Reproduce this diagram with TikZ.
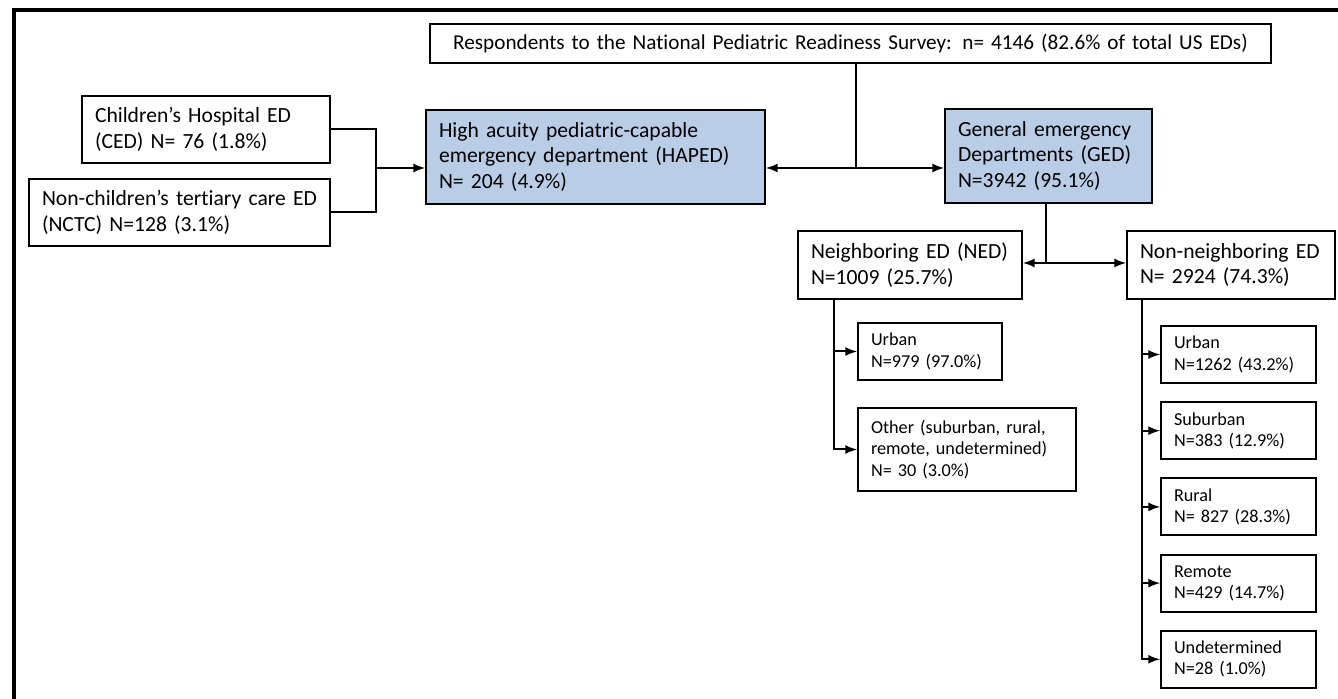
\documentclass[tikz,border=0pt]{standalone}
\usepackage{fontspec}
\setmainfont{Carlito}[Ligatures=NoCommon]
\usepackage{xcolor}
\usetikzlibrary{arrows, positioning}

\definecolor{boxblue}{RGB}{185,205,230}

\begin{document}
\begin{tikzpicture}[x=0.5pt,y=-0.5pt,node distance=38.1pt,line width=1pt,>=latex]
  \tikzstyle{every node}=[font=\fontsize{10.8}{12.75}\selectfont]
  \tikzstyle{box}=[draw,rectangle,anchor=north west,align=left,inner xsep=6.5pt,inner ysep=1pt]
  \tikzstyle{bluebox}=[box,fill=boxblue]
  \tikzstyle{small}=[box,font=\fontsize{9.1}{10.6}\selectfont,text width=64.5pt,minimum height=28.5pt]

  \useasboundingbox (0,0) rectangle (1338,699);
  \draw[line width=2.2pt] (14,699) -- (14,10) -- (1338,10);

  \node[box,align=center,text width=407.5pt,minimum height=19.5pt,font=\fontsize{10.6}{12.75}\selectfont] (resp) at (429,23)
    {Respondents to the National Pediatric Readiness Survey: n= 4146 (82.6\% of total US EDs)};
  \node[box,text width=111pt,minimum height=33.5pt]      (ced)   at (81,95)    {Children's Hospital ED\\(CED) N= 76 (1.8\%)};
  \node[box,text width=137.5pt,minimum height=33.5pt]    (nctc)  at (28,178)   {Non-children's tertiary care ED\\(NCTC) N=128 (3.1\%)};
  \node[bluebox,text width=156.5pt,minimum height=47pt]  (haped) at (425,109)  {High acuity pediatric-capable\\emergency department (HAPED)\\N= 204 (4.9\%)};
  \node[bluebox,text width=90.5pt,minimum height=47pt]   (ged)   at (944,108)  {General emergency\\Departments (GED)\\N=3942 (95.1\%)};
  \node[box,text width=99pt,minimum height=34pt]         (ned)   at (797,230)  {Neighboring ED (NED)\\N=1009 (25.7\%)};
  \node[box,text width=91pt,minimum height=34pt]         (nned)  at (1126,230) {Non-neighboring ED\\N= 2924 (74.3\%)};

  \node[small,text width=59pt]                       (ned_u)  at (857,322)  {Urban\\N=979 (97.0\%)};
  \node[small,text width=96pt,minimum height=41.5pt] (ned_o)  at (857,407)  {Other (suburban, rural,\\remote, undetermined)\\N= 30 (3.0\%)};
  \node[small]                                       (nned_u) at (1160,325) {Urban\\N=1262 (43.2\%)};
  \node[small,below of=nned_u] (nned_s) {Suburban\\N=383 (12.9\%)};
  \node[small,below of=nned_s] (nned_r) {Rural\\N= 827 (28.3\%)};
  \node[small,below of=nned_r] (nned_m) {Remote\\N=429 (14.7\%)};
  \node[small,below of=nned_m] (nned_d) {Undetermined\\N=28 (1.0\%)};

  % junctions
  \coordinate (j_in)   at (376,168);
  \coordinate (j_top)  at (856,168);
  \coordinate (j_ged)  at (1046,263);
  \coordinate (b_ned)  at (834,298);
  \coordinate (b_nned) at (1142,298);

  \draw (ced.east) -| (j_in) |- (nctc.east);
  \draw[->] (j_in) -- (haped.west |- j_in);
  \draw (resp.south -| j_top) -- (j_top);
  \draw[->] (j_top) -- (haped.east |- j_top);
  \draw[->] (j_top) -- (ged.west |- j_top);
  \draw (ged.south -| j_ged) -- (j_ged);
  \draw[->] (j_ged) -- (ned.east |- j_ged);
  \draw[->] (j_ged) -- (nned.west |- j_ged);
  \foreach \n in {ned_u,ned_o}
    \draw[->] (b_ned) |- (\n.west);
  \foreach \n in {nned_u,nned_s,nned_r,nned_m,nned_d}
    \draw[->] (b_nned) |- (\n.west);
\end{tikzpicture}
\end{document}
